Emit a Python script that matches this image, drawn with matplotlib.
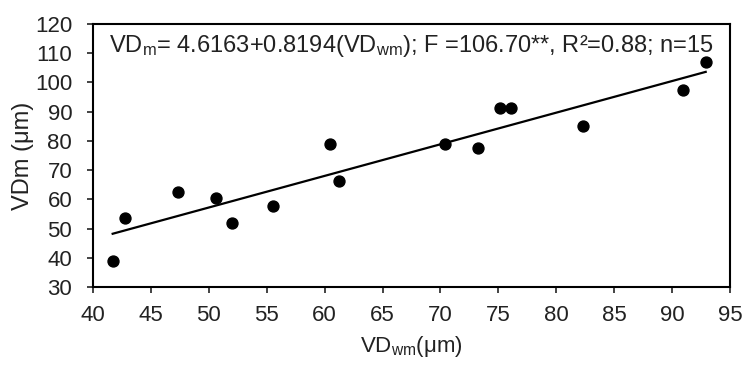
import numpy as np
import matplotlib.pyplot as plt

plt.rcParams['font.family'] = ['Liberation Sans', 'DejaVu Sans']
plt.rcParams['mathtext.fontset'] = 'custom'
plt.rcParams['mathtext.rm'] = 'Liberation Sans'
plt.rcParams['mathtext.it'] = 'Liberation Sans'

# VDwm (x) and VDm (y), in micrometres
vd_wm = [41.7, 42.8, 47.3, 50.6, 52.0, 55.5, 60.5, 61.2, 70.4, 73.2, 75.1, 76.1, 82.3, 90.9, 92.9]
vd_m = [38.9, 53.7, 62.6, 60.6, 52.0, 57.8, 78.8, 66.4, 78.8, 77.7, 91.1, 91.1, 85.0, 97.3, 107.0]

x_ticks = np.arange(40, 96, 5)
y_ticks = np.arange(30, 121, 10)

x = np.array(vd_wm)
y = np.array(vd_m)
slope, intercept = np.polyfit(x, y, 1)
x_line = np.array([x.min(), x.max()])

fig = plt.figure(figsize=(7.45, 3.65), dpi=100)
ax = fig.add_axes([0.1248, 0.2137, 0.8551, 0.7205])

ax.plot(x_line, intercept + slope * x_line, color='black', linewidth=1.6)
ax.scatter(x, y, s=62, color='black', zorder=3)

ax.set_xlim(40, 95)
ax.set_ylim(30, 120)
ax.set_xticks(x_ticks)
ax.set_yticks(y_ticks)
ax.tick_params(direction='out', length=4, width=1.2, labelsize=16, colors='#222222')
ax.tick_params(axis='x', pad=9)
ax.tick_params(axis='y', pad=11)
for sp in ax.spines.values():
    sp.set_linewidth(1.5)

ax.set_xlabel(r'VD$_{\mathrm{wm}}$(μm)', fontsize=16, labelpad=6, color='#222222')
ax.set_ylabel('VDm (μm)', fontsize=17, labelpad=1, color='#222222')

ax.text(0.5, 0.915,
        r'VD$_{\mathrm{m}}$= 4.6163+0.8194(VD$_{\mathrm{wm}}$); F =106.70**, R²=0.88; n=15',
        transform=ax.transAxes, ha='center', va='center', fontsize=17, color='#222222')

fig.savefig('out.png', dpi=100)
